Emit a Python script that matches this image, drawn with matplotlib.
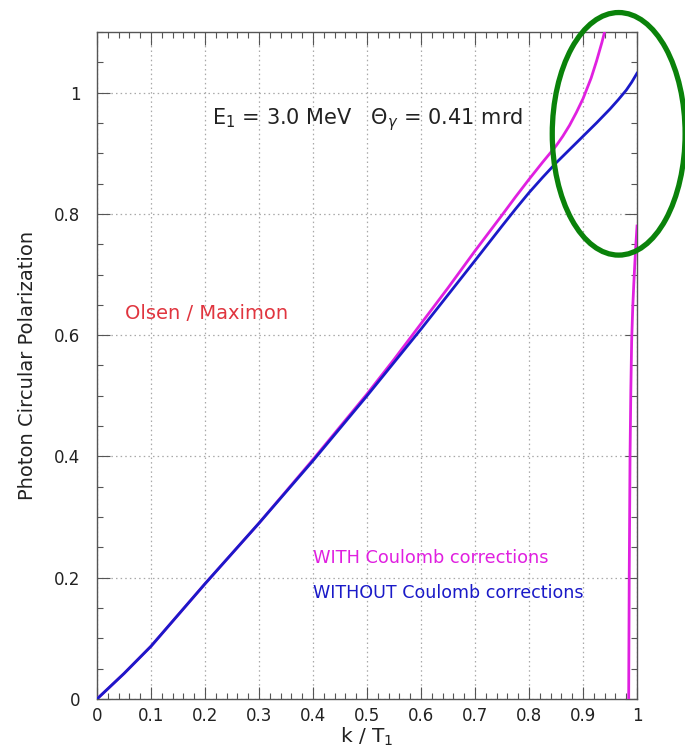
import matplotlib.pyplot as plt
from matplotlib.patches import Ellipse
from matplotlib.ticker import MultipleLocator, FuncFormatter

# photon circular polarization vs k/T1
k_without = [0, 0.05, 0.1, 0.2, 0.3, 0.4, 0.5, 0.6, 0.7, 0.75, 0.775, 0.8, 0.825, 0.85,
             0.875, 0.9, 0.925, 0.95, 0.965, 0.98, 0.99, 1.0]
pol_without = [0, 0.042, 0.087, 0.19, 0.29, 0.393, 0.500, 0.610, 0.723, 0.780, 0.808, 0.835,
               0.860, 0.884, 0.906, 0.928, 0.950, 0.973, 0.988, 1.004, 1.017, 1.032]

k_with = [0, 0.05, 0.1, 0.2, 0.3, 0.4, 0.5, 0.55, 0.6, 0.65, 0.7, 0.75, 0.775, 0.8, 0.825,
          0.85, 0.8625, 0.875, 0.8875, 0.9, 0.915, 0.925, 0.935, 0.945, 0.955]
pol_with = [0, 0.042, 0.087, 0.19, 0.29, 0.395, 0.503, 0.560, 0.619, 0.678, 0.739, 0.798,
            0.828, 0.857, 0.885, 0.912, 0.928, 0.946, 0.967, 0.990, 1.024, 1.052, 1.083,
            1.118, 1.160]

# branch past the pole near k/T1 ~ 0.98
k_with_2 = [0.9835, 0.9845, 0.9855, 0.987, 0.9885, 0.990, 0.992, 0.994, 0.996, 0.998, 1.0]
pol_with_2 = [-0.05, 0.0, 0.2, 0.4, 0.51, 0.59, 0.645, 0.685, 0.72, 0.752, 0.78]

magenta = '#e020e0'
blue = '#1a1ac8'

fig = plt.figure(figsize=(6.85, 7.48), dpi=100)
ax = fig.add_axes([0.1416, 0.0655, 0.7884, 0.8918])

ax.plot(k_with, pol_with, color=magenta, lw=2.0, zorder=3)
ax.plot(k_with_2, pol_with_2, color=magenta, lw=2.0, zorder=3)
ax.plot(k_without, pol_without, color=blue, lw=2.0, zorder=4)

ax.set_xlim(0, 1)
ax.set_ylim(0, 1.1)

ax.xaxis.set_major_locator(MultipleLocator(0.1))
ax.xaxis.set_minor_locator(MultipleLocator(0.02))
ax.yaxis.set_major_locator(MultipleLocator(0.2))
ax.yaxis.set_minor_locator(MultipleLocator(0.05))
fmt = FuncFormatter(lambda v, p: '%g' % round(v, 2))
ax.xaxis.set_major_formatter(fmt)
ax.yaxis.set_major_formatter(fmt)

ax.tick_params(which='both', direction='in', top=True, right=True, colors='#555555',
               labelcolor='#222222', labelsize=12)
ax.tick_params(which='major', length=9, width=0.8)
ax.tick_params(which='minor', length=4.5, width=0.8)
ax.tick_params(axis='y', pad=12)
ax.tick_params(axis='x', pad=6)
for s in ax.spines.values():
    s.set_color('#555555')
    s.set_linewidth(1.0)

ax.grid(True, which='major', color='#a8a8a8', linestyle=(0, (1.2, 2.5)), linewidth=0.9)

ax.set_xlabel(r'k / T$_1$', fontsize=14.5, color='#222222', labelpad=0)
ax.set_ylabel('Photon Circular Polarization', fontsize=14, color='#222222', labelpad=12)

ax.text(0.213, 0.956, r'E$_1$ = 3.0 MeV   $\Theta_\gamma$ = 0.41 mrd', fontsize=15,
        color='#222222', va='center', ha='left')
ax.text(0.052, 0.635, 'Olsen / Maximon', fontsize=14, color='#e0353f', va='center')
ax.text(0.40, 0.232, 'WITH Coulomb corrections', fontsize=12.8, color=magenta, va='center')
ax.text(0.40, 0.174, 'WITHOUT Coulomb corrections', fontsize=12.6, color=blue, va='center')

# highlight of the region where the two calculations split
ring = Ellipse((0.966, 0.932), 0.246, 0.40, fill=False, edgecolor='#0a820a',
               linewidth=3.8, clip_on=False, zorder=6)
ax.add_patch(ring)

fig.savefig('out.png', dpi=100)
